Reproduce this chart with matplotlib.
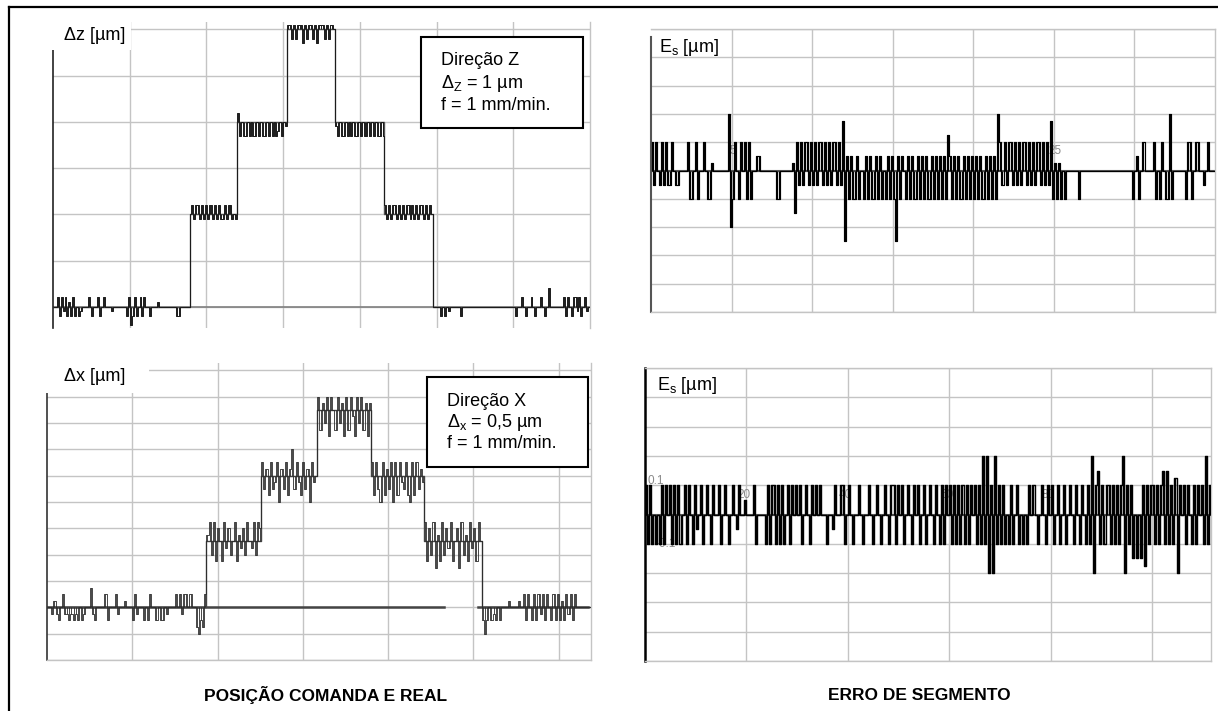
import numpy as np
import matplotlib
matplotlib.use("Agg")
import matplotlib.pyplot as plt
from matplotlib.patches import Rectangle
from matplotlib.lines import Line2D

plt.rcParams['font.family'] = ['Liberation Sans', 'DejaVu Sans']
plt.rcParams['mathtext.fontset'] = 'custom'
plt.rcParams['mathtext.rm'] = 'Liberation Sans'
plt.rcParams['mathtext.it'] = 'Liberation Sans:italic'

W, H = 1218, 711

# ---------------- data ----------------
# top left: Z position [um], x in grid divisions
tl_edges = [0, 1.78, 2.40, 3.05, 3.68, 4.32, 4.95, 7.0]
tl_levels = [0, 1, 2, 3, 2, 1, 0]
tl_unit = 0.05  # noise counts -> um
tl_noise = [
    # rest, left
    [0, 0, 2, -2, 2, -1, 2, -2, 1, -2, 2, -2, 0, -2, -1, 0, 0, 0, 2, 0,
     -2, 0, 0, 2, -2, 0, 2, 0, 0, 0, -1, 0, 0, 0, 0, 0, 0, 0, -2, 2,
     -4, -2, 2, -2, 0, 2, -2, 2, 0, 0, -2, 0, 0, 0, 1, 0, 0, 0, 0, 0,
     0, 0, 0, 0, -2, -2, 0, 0, 0, 0, 0],
    # 1 um
    [0, 2, -1, 2, 2, -1, 2, -1, 2, -1, 2, 2, -1, 2, -1, 2, -1, -1, 2, -1,
     2, 2, -1, 0, -1],
    # 2 um
    [2, -3, 0, -3, -3, 0, -3, 0, -3, -3, 0, -3, 0, -3, -3, 0, -3, 0, -3, 0,
     -3, -2, 0, -3, 0, -1],
    # 3 um
    [1, 1, -2, 1, -2, 1, 1, 1, -3, 1, -2, 1, 1, -2, 1, -3, 1, 1, 1, -2,
     1, -2, 1, 1, 0],
    # 2 um
    [-1, -3, 0, -3, -3, 0, -3, 0, -3, 0, -3, -3, 0, -3, 0, -3, -3, 0, -3, 0,
     -3, 0, -3, -3, 0, -3],
    # 1 um
    [2, -1, 2, -1, 2, 2, -1, 2, -1, 2, -1, 2, 2, -1, 2, -1, 2, -1, 2, 2,
     -1, 2, -1, 2, 0],
    # rest, right
    [0, 0, 0, 0, -2, 0, -2, 0, -1, 0, 0, 0, 0, 0, -2, 0, 0, 0, 0, 0,
     0, 0, 0, 0, 0, 0, 0, 0, 0, 0, 0, 0, 0, 0, 0, 0, 0, 0, 0, 0,
     0, 0, 0, -2, 0, 0, 2, 0, -2, 0, 0, 2, 0, -2, 0, 0, 2, 0, -2, 0,
     4, 0, 0, 0, 0, 0, 0, 0, 2, -2, 2, 0, -2, 2, 2, -1, 2, -2, 0, 2,
     -1, 0],
]

# bottom left: X position [um]
bl_edges = [0, 1.87, 2.51, 3.17, 3.80, 4.42, 5.10, 6.38]
bl_levels = [0, 0.5, 1.0, 1.5, 1.0, 0.5, 0]
bl_unit = 0.05
bl_noise = [
    [0, 0, -1, 1, -1, -2, 0, 2, -1, -1, -2, -1, -2, -1, -2, 0, -2, -1, 0, 0,
     3, -1, -2, 0, 0, 0, 0, 2, -2, 0, 0, 0, 2, -1, 0, 0, 1, 0, 0, 0,
     -2, 2, -1, 0, 0, -2, 0, -2, 2, 0, 0, -2, 0, -2, -2, 0, -1, 0, 0, 0,
     2, 0, 2, -1, 2, 2, 0, 2, 0, 0, -3, -4, -2, -3, 2],
    [1, 3, -2, 3, -3, 2, 0, -3, 3, -1, 2, -2, 0, 3, -3, 1, -1, 2, -2, 3,
     0, -1, 3, -2, 3, 2],
    [2, -2, 1, -3, 2, -2, -1, 2, -4, 1, -2, 2, -3, 1, 4, -2, 2, -1, -3, 2,
     -2, 1, -4, 2, -1, 0],
    [2, -3, 1, -2, 2, -4, 2, 0, -3, 2, -2, 1, -4, 2, -3, 2, -1, -4, 2, -2,
     2, -3, 1, -4, 1],
    [2, -3, 2, -2, -4, 2, -3, 1, -2, 2, -4, 2, -3, 2, -1, -2, 2, -3, -4, 2,
     -3, 2, -2, 1, -1],
    [3, -3, 2, -2, 3, -4, 1, -3, 3, -2, 2, -1, 3, -3, 0, 2, -4, 3, -2, 1,
     -3, 3, -1, 2, -3, 3, 0],
    [-2, -4, -2, 0, -2, -1, -2, 0, -2, 0, 0, 0, 1, 0, 0, 0, 0, 1, 0,
     2, -2, 2, 0, -2, 2, -2, 2, -1, 2, -2, 2, 0, -2, 2, -2, 2, -2, 1, -2,
     2, -1, 2, -2, 2, 0, 0, 0, 0, 0, 0, 0],
]

# top right: segment error [um], x axis labelled 5 .. 30
tr_edges = [0, 5, 10, 15, 20, 25, 30, 35]
tr_unit = 0.025
tr_err = [
    [4, -2, 4, 0, -2, 4, -2, 4, -2, -2, 4, 0, -2, -2, 0, 0, 0, 0, 4, -4,
     -4, 0, 4, -4, 0, 0, 4, 0, -4, -4, 1, 0, 0, 0, 0, 0, 0, 0, 8, -8],
    [-4, 4, 0, -4, 4, 0, 4, -4, 4, -4, 0, 0, 2, 2, 0, 0, 0, 0, 0, 0,
     0, 0, -4, -4, 0, 0, 0, 0, 0, 0, 1, -6, 4, -2, 4, -2, 4, 4, -2, 4],
    [-2, 4, -2, 4, 4, -2, 4, -2, 4, -2, 4, 4, -2, 4, -2, 7, -10, 2, -4, 2,
     -4, -4, 2, -4, 0, -4, 2, -4, 2, -4, -4, 2, -4, 2, -4, 0, -4, 2, -4, 2],
    [-4, -10, 2, -4, 2, 0, -4, 2, -4, 2, -4, -4, 2, -4, 2, -4, 2, -4, -4, 2,
     -4, 2, -4, 2, -4, 2, -4, 5, 2, -4, 2, -4, 2, -4, -4, 2, -4, 2, -4, 2],
    [-4, 2, -4, 2, -4, -4, 2, -4, 2, -4, 2, -4, 8, 4, -2, 4, -2, 4, 4, -2,
     4, -2, 4, -2, 4, 4, -2, 4, -2, 4, -2, 4, 4, -2, 4, -2, 4, -2, 7, -4],
    [1, -4, 1, -4, 0, -4, 0, 0, 0, 0, 0, 0, -4, 0, 0, 0, 0, 0, 0, 0,
     0, 0, 0, 0, 0, 0, 0, 0, 0, 0, 0, 0, 0, 0, 0, 0, 0, 0, 0, -4],
    [0, 2, -4, 0, 4, 0, 0, 0, 0, 4, -4, 0, -4, 4, 0, -4, -4, 8, -4, 0,
     0, 0, 0, 0, 0, -4, 4, 4, -4, 0, 4, 4, 0, 0, -2, 0, 4, 0, 0, 0],
]
tr_ticks = [5, 25]

# bottom right: segment error [um], x axis labelled 20 .. 80
br_edges = [0, 20, 40, 60, 80, 100, 111.6]
br_unit = 0.025
br_err = [
    [4, -4, 4, -4, 0, -4, 0, -4, 4, -4, 4, 0, 4, -4, 4, -4, 4, -4, 0, 4,
     -4, 4, 0, -4, 4, -2, 0, 4, -4, 0, 4, 0, -4, 4, 0, 0, 4, -4, 0, 4,
     0, -4, 0, 4, 0, -2, 4, 0, 0, 2],
    [0, 0, 0, 4, -4, 0, 0, 0, 0, -4, 4, -4, 4, 4, -4, 4, -4, 4, -4, 0,
     4, -4, 4, 0, 4, 0, 4, -4, 0, 4, 0, -4, 4, 0, 4, 0, 4, 0, 0, -4,
     0, 0, -2, 4, 0, 0, 4, 4, -4, 0],
    [4, 0, -4, 0, 0, 4, 0, -4, 0, 0, 4, 0, -4, 0, 4, 0, -4, 0, 4, 0,
     -4, 4, 4, -4, 4, 0, 4, -4, 0, 4, 0, -4, 4, 0, 4, -4, 0, 4, -4, 0,
     4, 0, -4, 4, 0, -4, 4, -4, 4, 0],
    [4, -4, 4, -4, 4, -4, 4, -4, 4, -4, 4, 0, 4, -4, 4, -4, 8, -4, 8, -8,
     4, -8, 8, -4, 4, -4, 4, -4, 0, -4, 4, -4, 0, 4, -4, 0, -4, 0, -4, 4,
     0, 4, 0, -4, 0, 4, 0, -4, 4, 0],
    [4, -4, 0, 4, -4, 0, 4, -4, 0, 4, 0, -4, 4, 0, -4, 4, 0, -4, 4, -4,
     8, -8, 4, 6, -4, 4, -4, 4, 4, -4, 4, -4, 4, -4, 4, 8, -8, 4, -4, 4,
     -6, 0, -6, 0, -6, 4, -7, 4, -4, 4],
    [4, -4, 4, -4, 4, 6, -4, 6, -4, 4, -4, 5, -8, 4, 0, 4, -4, 4, 0, -4,
     4, -4, 4, 0, 4, -4, 8, -4, 4],
]
br_ticks = [20, 40, 60, 80]

GRID = '#c4c4c4'


def trace(edges, levels, noise, unit):
    xs, base, ys = [], [], []
    for k, seg in enumerate(noise):
        n = len(seg)
        x = edges[k] + (np.arange(n) + 0.5) * (edges[k + 1] - edges[k]) / n
        xs.append(x)
        base.append(np.full(n, float(levels[k])))
        ys.append(levels[k] + np.array(seg) * unit)
    return np.concatenate(xs), np.concatenate(base), np.concatenate(ys)


def draw_noise(ax, x, b, y, color, lw):
    # recorder look: held steps plus a stroke from the command level at every sample
    ax.plot(x, y, drawstyle='steps-mid', color=color, lw=lw, zorder=3)
    ax.vlines(x, b, y, color=color, lw=lw, zorder=3)


def place(l, t, r, b):
    return [l / W, 1 - b / H, (r - l) / W, (b - t) / H]


def setup(ax, xlim, ylim, xt, yt):
    ax.set_xlim(xlim)
    ax.set_ylim(ylim)
    ax.set_xticks(xt)
    ax.set_yticks(yt)
    ax.tick_params(length=0, labelbottom=False, labelleft=False)
    ax.grid(True, color=GRID, lw=1.0)
    ax.set_axisbelow(True)
    ax.patch.set_alpha(0)
    for s in ax.spines.values():
        s.set_color(GRID)
        s.set_linewidth(1.0)


fig = plt.figure(figsize=(W / 100, H / 100), dpi=100)

# ---- top left ----
ax1 = fig.add_axes(place(53, 22, 590, 328))
setup(ax1, (0, 7), (-0.23, 3.08), range(1, 7), np.arange(0, 3.01, 0.5))
ax1.spines['top'].set_visible(False)
ax1.spines['bottom'].set_visible(False)
ax1.spines['left'].set_color('#222')
ax1.spines['left'].set_linewidth(1.2)
ax1.axhline(0, color='#808080', lw=1.2, zorder=1.5)
ax1.step(tl_edges, tl_levels + [tl_levels[-1]], where='post', color='#555', lw=1.0, zorder=2)
x, b, y = trace(tl_edges, tl_levels, tl_noise, tl_unit)
draw_noise(ax1, x, b, y, '#1a1a1a', 0.7)

# ---- bottom left ----
ax2 = fig.add_axes(place(47, 363, 591, 660))
setup(ax2, (0, 6.38), (-0.4, 1.855), range(1, 7), np.arange(-0.4, 1.81, 0.2))
ax2.spines['top'].set_visible(False)
ax2.spines['left'].set_color('#333')
ax2.spines['left'].set_linewidth(1.2)
ax2.axhline(0, xmax=4.66 / 6.38, color='#444', lw=1.8, zorder=1.5)
ax2.axhline(0, xmin=5.05 / 6.38, xmax=6.35 / 6.38, color='#444', lw=1.8, zorder=1.5)
ax2.step(bl_edges, bl_levels + [bl_levels[-1]], where='post', color='#444', lw=1.0, zorder=2)
x, b, y = trace(bl_edges, bl_levels, bl_noise, bl_unit)
draw_noise(ax2, x, b, y, '#2a2a2a', 0.6)

# ---- top right ----
ax3 = fig.add_axes(place(651, 29, 1215, 312))
setup(ax3, (0, 35), (-0.5, 0.5), range(5, 35, 5), np.arange(-0.5, 0.51, 0.1))
ax3.spines['left'].set_color('#555')
ax3.spines['left'].set_linewidth(1.5)
ax3.spines['left'].set_bounds(-0.5, 0.47)
ax3.axhline(0, color='#555', lw=1.5, zorder=1.5)
x, b, y = trace(tr_edges, [0] * 7, tr_err, tr_unit)
draw_noise(ax3, x, b, y, 'k', 0.85)
for t in tr_ticks:
    ax3.text(t + 0.1, 0.07, str(t), fontsize=8.5, color='#8a8a8a',
             ha='center', va='center', zorder=1.8)

# ---- bottom right ----
ax4 = fig.add_axes(place(645, 368, 1211, 661))
setup(ax4, (0, 111.6), (-0.5, 0.5), range(20, 101, 20), np.arange(-0.5, 0.51, 0.1))
ax4.spines['left'].set_color('k')
ax4.spines['left'].set_linewidth(1.8)
ax4.axhline(0, color='#555', lw=1.5, zorder=1.5)
x, b, y = trace(br_edges, [0] * 6, br_err, br_unit)
draw_noise(ax4, x, b, y, 'k', 1.0)
for t in br_ticks:
    ax4.text(t - 0.5, 0.068, str(t), fontsize=8.5, color='#8a8a8a',
             ha='center', va='center', zorder=1.8)
ax4.text(2.2, 0.113, '0.1', fontsize=8.5, color='#8a8a8a', ha='center', va='center', zorder=1.8)
ax4.text(4.0, -0.1, '-0.1', fontsize=8.5, color='#8a8a8a', ha='center', va='center', zorder=1.8)

# ---- labels, boxes, frame ----
def fx(px):
    return px / W


def fy(py):
    return 1 - py / H


# white patches where the axis labels sit on the left panels
for l, t, r, b in [(44, 16, 131, 50), (38, 356, 149, 393)]:
    fig.add_artist(Rectangle((fx(l), fy(b)), (r - l) / W, (b - t) / H, transform=fig.transFigure,
                             fc='white', ec='none', zorder=4))

fig.text(fx(64), fy(35), 'Δz [µm]', fontsize=13, va='center', zorder=6)
fig.text(fx(64), fy(376), 'Δx [µm]', fontsize=13, va='center', zorder=6)
fig.text(fx(659), fy(47), r'E$_{\rm s}$ [µm]', fontsize=13, va='center', zorder=6)
fig.text(fx(657), fy(385), r'E$_{\rm s}$ [µm]', fontsize=13, va='center', zorder=6)

boxes = [
    ((421, 37, 583, 128), 441, [65, 88, 110], ['Direção Z', r'Δ$_{\rm Z}$ = 1 µm', 'f = 1 mm/min.']),
    ((427, 377, 588, 467), 447, [406, 427, 448], ['Direção X', r'Δ$_{\rm x}$ = 0,5 µm', 'f = 1 mm/min.']),
]
for (l, t, r, b), tx, ys, lines in boxes:
    fig.add_artist(Rectangle((fx(l), fy(b)), (r - l) / W, (b - t) / H, transform=fig.transFigure,
                             fc='white', ec='k', lw=1.5, zorder=5))
    for yy, s in zip(ys, lines):
        fig.text(fx(tx), fy(yy), s, fontsize=13, va='baseline', zorder=6)

fig.text(fx(326), fy(695), 'POSIÇÃO COMANDA E REAL', fontsize=12.5, fontweight='bold',
         ha='center', va='center')
fig.text(fx(919), fy(695), 'ERRO DE SEGMENTO', fontsize=12.5, fontweight='bold',
         ha='center', va='center')

fig.add_artist(Line2D([fx(9), 1], [fy(7), fy(7)], color='k', lw=1.6))
fig.add_artist(Line2D([fx(9), fx(9)], [fy(7), 0], color='k', lw=1.6))

fig.savefig('out.png', dpi=100)
